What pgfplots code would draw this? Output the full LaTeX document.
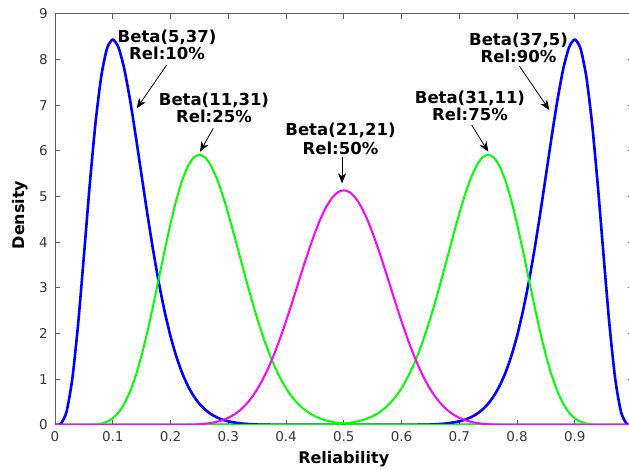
\documentclass[border=0pt]{standalone}
\usepackage{pgfplots}
\pgfplotsset{compat=1.18}
\usetikzlibrary{arrows.meta}
\usepackage{fontspec}
\setmainfont{DejaVu Sans}
\definecolor{axgray}{RGB}{95,95,95}
\definecolor{tickgray}{RGB}{55,55,55}
\definecolor{mblue}{RGB}{0,0,255}
\definecolor{mgreen}{RGB}{0,255,0}
\definecolor{mmag}{RGB}{255,0,255}

\begin{document}
\begin{tikzpicture}[x=1pt,y=1pt]
\begin{axis}[
  at={(55pt,45pt)}, anchor=south west,
  scale only axis, width=577.5pt, height=411pt,
  xmin=0, xmax=1, ymin=0, ymax=9,
  xtick={0,0.1,0.2,0.3,0.4,0.5,0.6,0.7,0.8,0.9},
  xticklabels={0,0.1,0.2,0.3,0.4,0.5,0.6,0.7,0.8,0.9},
  ytick={0,1,2,3,4,5,6,7,8,9},
  yticklabels={0,1,2,3,4,5,6,7,8,9},
  tick align=inside, major tick length=5pt,
  axis line style={axgray, line width=1pt},
  every tick/.style={axgray, line width=1pt},
  tick label style={font=\fontsize{13.5}{14}\selectfont, text=tickgray, inner sep=0pt},
  xticklabel style={anchor=north, yshift=-6.5pt},
  yticklabel style={anchor=east, xshift=-7pt},
  xlabel={Reliability}, ylabel={Density},
  label style={font=\fontsize{16}{18}\selectfont\bfseries, inner sep=0pt},
  xlabel style={at={(axis description cs:0.5,-0.0925)}, anchor=base},
  ylabel style={at={(axis description cs:-0.052,0.511)}, anchor=base},
  every axis plot/.append style={no markers, line join=round, smooth, tension=0.4},
  clip=true,
]
% Beta(5,37): reliability 10%
\addplot[mblue, line width=2.6pt] coordinates {
(0,0) (0.01,0.0261) (0.02,0.2897) (0.03,1.0138) (0.04,2.2064) (0.05,3.6950)
(0.06,5.2347) (0.07,6.5987) (0.08,7.6277) (0.09,8.2440) (0.10,8.4413)
(0.11,8.2659) (0.12,7.7945) (0.13,7.1146) (0.14,6.3115) (0.15,5.4592)
(0.16,4.6155) (0.17,3.8219) (0.18,3.1051) (0.19,2.4783) (0.20,1.9455)
(0.21,1.5036) (0.22,1.1449) (0.23,0.8595) (0.24,0.6365) (0.25,0.4652)
(0.26,0.3357) (0.27,0.2392) (0.28,0.1684) (0.29,0.1171) (0.30,0.0805)
(0.32,0.0367) (0.34,0.0160) (0.36,0.0066) (0.40,0.0010) (0.45,0.0001)
(0.50,0) (1.00,0)
};
% Beta(37,5): reliability 90%
\addplot[mblue, line width=2.6pt] coordinates {
(0,0) (0.50,0) (0.55,0.0001) (0.60,0.0010) (0.64,0.0066) (0.66,0.0160)
(0.68,0.0367) (0.70,0.0805) (0.71,0.1171) (0.72,0.1684) (0.73,0.2392)
(0.74,0.3357) (0.75,0.4652) (0.76,0.6365) (0.77,0.8595) (0.78,1.1449)
(0.79,1.5036) (0.80,1.9455) (0.81,2.4783) (0.82,3.1051) (0.83,3.8219)
(0.84,4.6155) (0.85,5.4592) (0.86,6.3115) (0.87,7.1146) (0.88,7.7945)
(0.89,8.2659) (0.90,8.4413) (0.91,8.2440) (0.92,7.6277) (0.93,6.5987)
(0.94,5.2347) (0.95,3.6950) (0.96,2.2064) (0.97,1.0138) (0.98,0.2897)
(0.99,0.0261) (1.00,0)
};
% Beta(11,31): reliability 25%
\addplot[mgreen, line width=2pt] coordinates {
(0,0) (0.03,0) (0.04,0.0001) (0.05,0.0007) (0.06,0.0033) (0.07,0.0111)
(0.08,0.0306) (0.09,0.0716) (0.10,0.1473) (0.11,0.2733) (0.12,0.4648)
(0.13,0.7345) (0.14,1.0895) (0.15,1.5293) (0.16,2.0445) (0.17,2.6172)
(0.18,3.2222) (0.19,3.8291) (0.20,4.4055) (0.21,4.9206) (0.22,5.3466)
(0.23,5.6624) (0.24,5.8550) (0.25,5.9190) (0.26,5.8572) (0.27,5.6797)
(0.28,5.4021) (0.29,5.0436) (0.30,4.6255) (0.31,4.1696) (0.32,3.6964)
(0.33,3.2239) (0.34,2.7677) (0.35,2.3393) (0.36,1.9473) (0.37,1.5968)
(0.38,1.2900) (0.39,1.0270) (0.40,0.8056) (0.41,0.6229) (0.42,0.4746)
(0.43,0.3564) (0.44,0.2637) (0.45,0.1923) (0.46,0.1382) (0.47,0.0978)
(0.48,0.0682) (0.49,0.0468) (0.50,0.0316) (0.52,0.0138) (0.54,0.0056)
(0.56,0.0021) (0.60,0.0002) (0.65,0) (1.00,0)
};
% Beta(31,11): reliability 75%
\addplot[mgreen, line width=2pt] coordinates {
(0,0) (0.35,0) (0.40,0.0002) (0.44,0.0021) (0.46,0.0056) (0.48,0.0138)
(0.50,0.0316) (0.51,0.0468) (0.52,0.0682) (0.53,0.0978) (0.54,0.1382)
(0.55,0.1923) (0.56,0.2637) (0.57,0.3564) (0.58,0.4746) (0.59,0.6229)
(0.60,0.8056) (0.61,1.0270) (0.62,1.2900) (0.63,1.5968) (0.64,1.9473)
(0.65,2.3393) (0.66,2.7677) (0.67,3.2239) (0.68,3.6964) (0.69,4.1696)
(0.70,4.6255) (0.71,5.0436) (0.72,5.4021) (0.73,5.6797) (0.74,5.8572)
(0.75,5.9190) (0.76,5.8550) (0.77,5.6624) (0.78,5.3466) (0.79,4.9206)
(0.80,4.4055) (0.81,3.8291) (0.82,3.2222) (0.83,2.6172) (0.84,2.0445)
(0.85,1.5293) (0.86,1.0895) (0.87,0.7345) (0.88,0.4648) (0.89,0.2733)
(0.90,0.1473) (0.91,0.0716) (0.92,0.0306) (0.93,0.0111) (0.94,0.0033)
(0.95,0.0007) (0.96,0.0001) (1.00,0)
};
% Beta(21,21): reliability 50%
\addplot[mmag, line width=2pt] coordinates {
(0,0) (0.15,0) (0.20,0.0007) (0.22,0.0028) (0.24,0.0094) (0.25,0.0163)
(0.26,0.0273) (0.27,0.0443) (0.28,0.0695) (0.29,0.1060) (0.30,0.1572)
(0.31,0.2272) (0.32,0.3201) (0.33,0.4405) (0.34,0.5924) (0.35,0.7795)
(0.36,1.0042) (0.37,1.2677) (0.38,1.5692) (0.39,1.9058) (0.40,2.2720)
(0.41,2.6601) (0.42,3.0600) (0.43,3.4598) (0.44,3.8459) (0.45,4.2042)
(0.46,4.5208) (0.47,4.7825) (0.48,4.9783) (0.49,5.0992) (0.50,5.1402)
(0.51,5.0992) (0.52,4.9783) (0.53,4.7825) (0.54,4.5208) (0.55,4.2042)
(0.56,3.8459) (0.57,3.4598) (0.58,3.0600) (0.59,2.6601) (0.60,2.2720)
(0.61,1.9058) (0.62,1.5692) (0.63,1.2677) (0.64,1.0042) (0.65,0.7795)
(0.66,0.5924) (0.67,0.4405) (0.68,0.3201) (0.69,0.2272) (0.70,0.1572)
(0.71,0.1060) (0.72,0.0695) (0.73,0.0443) (0.74,0.0273) (0.75,0.0163)
(0.76,0.0094) (0.78,0.0028) (0.80,0.0007) (0.85,0) (1.00,0)
};

% annotations
\begin{scope}[every node/.style={font=\fontsize{16.5}{18}\selectfont\bfseries, inner sep=0pt, anchor=base},
              arr/.style={black, line width=0.8pt, -{Stealth[length=10pt,width=8pt,inset=3pt]}}]
\node at (axis cs:0.194,8.386) {Beta(5,37)};
\node at (axis cs:0.194,8.003) {Rel:10\%};
\draw[arr] (axis cs:0.1934,7.883) -- (axis cs:0.1415,6.935);

\node at (axis cs:0.2753,7.007) {Beta(11,31)};
\node at (axis cs:0.2753,6.630) {Rel:25\%};
\draw[arr] (axis cs:0.2741,6.497) -- (axis cs:0.2511,5.984);

\node at (axis cs:0.4944,6.350) {Beta(21,21)};
\node at (axis cs:0.4944,5.930) {Rel:50\%};
\draw[arr] (axis cs:0.497,5.875) -- (axis cs:0.497,5.292);

\node at (axis cs:0.7186,7.040) {Beta(31,11)};
\node at (axis cs:0.7186,6.660) {Rel:75\%};
\draw[arr] (axis cs:0.7215,6.569) -- (axis cs:0.7503,5.984);

\node at (axis cs:0.8026,8.320) {Beta(37,5)};
\node at (axis cs:0.8026,7.940) {Rel:90\%};
\draw[arr] (axis cs:0.804,7.861) -- (axis cs:0.856,6.897);
\end{scope}
\end{axis}
\pgfresetboundingbox
\useasboundingbox (0,0) rectangle (629,470);
\end{tikzpicture}
\end{document}
